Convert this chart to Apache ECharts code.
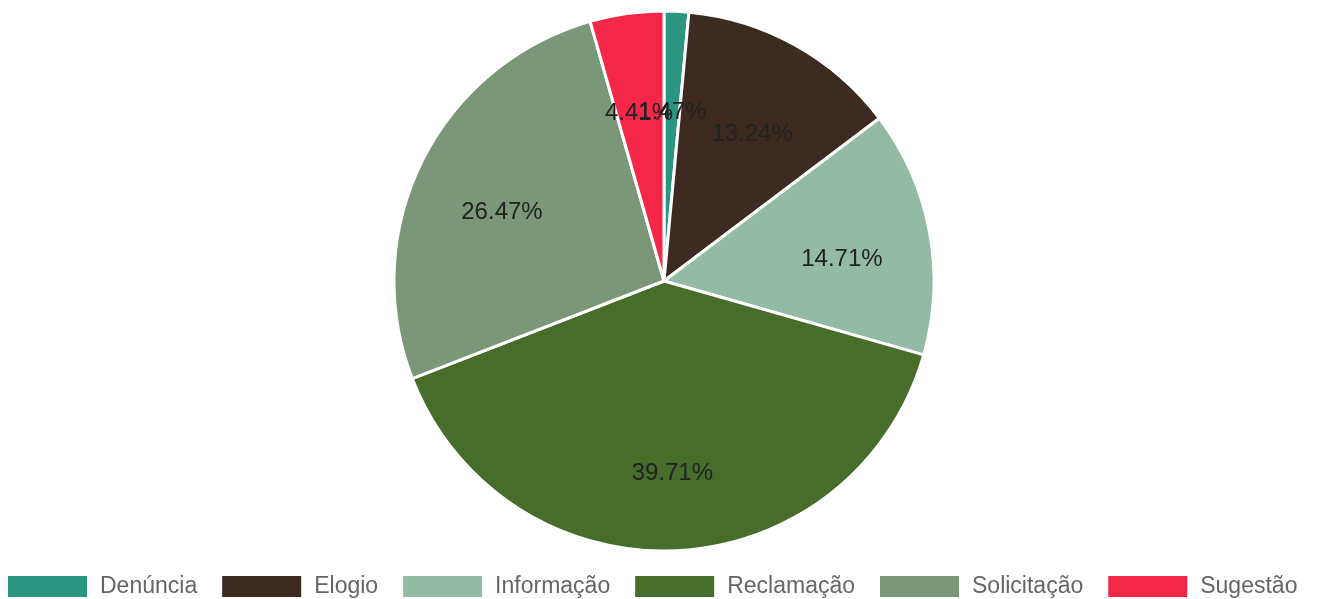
<!DOCTYPE html>
<html>
<head>
<meta charset="utf-8">
<script src="https://cdn.jsdelivr.net/npm/echarts@6/dist/echarts.min.js"></script>
<style>
    html, body { margin: 0; padding: 0; background: #fff; }
    #main { width: 1318px; height: 599px; }
</style>
</head>
<body>
<div id="main"></div>
<script>
'use strict';
var categories = ['Denúncia', 'Elogio', 'Informação', 'Reclamação', 'Solicitação', 'Sugestão'];
var counts = [1, 9, 10, 27, 18, 3];
var colors = ['#2b9680', '#3d2b22', '#93baa5', '#466d2a', '#7a9877', '#f42748'];

(function() {
    var myChart = echarts.init(document.getElementById('main'));

    var total = counts.reduce(function(a, b) { return a + b; }, 0);
    var pieData = categories.map(function(name, i) {
        return { name: name, value: counts[i], itemStyle: { color: colors[i] } };
    });

    var option = {
        animation: false,
        textStyle: { fontFamily: 'Liberation Sans, Arial, sans-serif' },
        legend: {
            left: 6,
            top: 574,
            padding: 0,
            itemWidth: 81,
            itemHeight: 23,
            itemGap: 23,
            icon: 'rect',
            textStyle: { color: '#666', fontSize: 23, padding: [0, 0, 0, 7] },
            data: categories
        },
        series: [{
            // visible slices
            name: 'pie',
            type: 'pie',
            center: [664, 281],
            radius: [0, 270],
            startAngle: 90,
            data: pieData,
            label: { show: false },
            labelLine: { show: false },
            itemStyle: { borderColor: '#fff', borderWidth: 3 },
            emphasis: { disabled: true }
        }, {
            // label ring, only used to place the percentages
            name: 'labels',
            type: 'pie',
            center: [664, 281],
            radius: [86, 270],
            startAngle: 90,
            silent: true,
            avoidLabelOverlap: false,
            minShowLabelAngle: 0,
            labelLayout: { hideOverlap: false },
            data: pieData.map(function(d) {
                return { name: d.name, value: d.value, itemStyle: { color: 'transparent' } };
            }),
            label: {
                show: true,
                position: 'inside',
                color: '#222',
                fontSize: 24,
                offset: [0, 12],
                formatter: function(p) {
                    return (p.value / total * 100).toFixed(2) + '%';
                }
            },
            labelLine: { show: false },
            emphasis: { disabled: true }
        }]
    };

    myChart.setOption(option);
})();
</script>
</body>
</html>
